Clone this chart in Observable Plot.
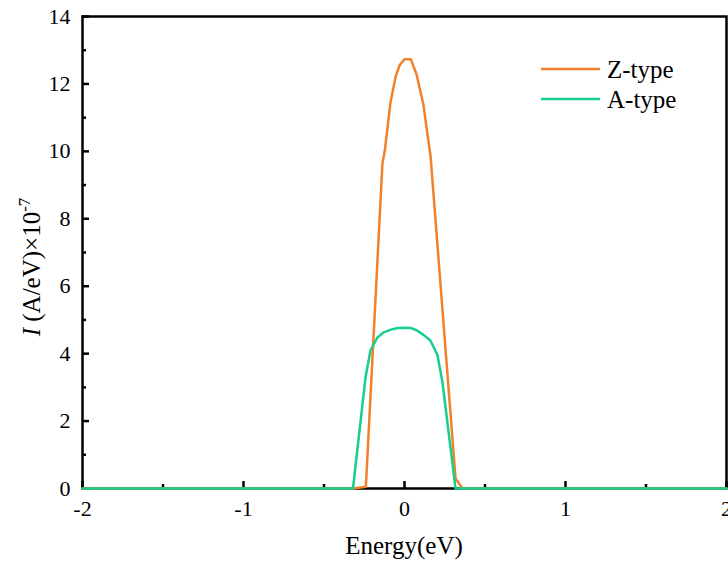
<!DOCTYPE html>
<html><head><meta charset="utf-8">
<script src="https://cdn.jsdelivr.net/npm/d3@7"></script>
<script src="https://cdn.jsdelivr.net/npm/@observablehq/plot@0.6"></script>
<style>
html,body{margin:0;padding:0;background:#fff;overflow:hidden}
svg, svg text, svg tspan { font-family: "Liberation Serif", "Times New Roman", "DejaVu Serif", serif !important; }
</style>
</head><body><div id="chart"></div>
<script>
const seriesNames = ["Z-type", "A-type"];
const seriesColors = ["#f4812a", "#17cf8d"];

const zEnergy  = [-2, -0.32, -0.24, -0.137, -0.122, -0.087, -0.056, -0.031, 0, 0.04, 0.075, 0.117, 0.162, 0.317, 0.36, 2];
const zCurrent = [0, 0, 0.05, 9.64, 10.03, 11.45, 12.2, 12.55, 12.73, 12.73, 12.28, 11.4, 9.85, 0.3, 0, 0];

const aEnergy  = [-2, -0.32, -0.242, -0.211, -0.168, -0.13, -0.08, -0.04, 0, 0.04, 0.08, 0.12, 0.161, 0.205, 0.236, 0.317, 2];
const aCurrent = [0, 0, 3.3, 4.1, 4.48, 4.63, 4.72, 4.76, 4.77, 4.76, 4.68, 4.55, 4.39, 3.95, 3.15, 0, 0];

const xMajorTicks = [-2, -1, 0, 1, 2];
const xMinorTicks = [-1.5, -0.5, 0.5, 1.5];
const yMajorTicks = [0, 2, 4, 6, 8, 10, 12, 14];
const yMinorTicks = [1, 3, 5, 7, 9, 11, 13];
const xTitle = "Energy(eV)";
const yTitleItalic = "I";
const yTitleMain = " (A/eV)×10";
const yTitleSup = "-7";

const zData = zEnergy.map((e, i) => ({e, v: zCurrent[i]}));
const aData = aEnergy.map((e, i) => ({e, v: aCurrent[i]}));

const W = 728, H = 562;
const mL = 82, mR = 2, mT = 16, mB = 74;
const fmt = d => String(d);

const chart = Plot.plot({
  width: W, height: H,
  marginLeft: mL, marginRight: mR, marginTop: mT, marginBottom: mB,
  style: {fontSize: "22px", color: "black", background: "white"},
  x: {domain: [-2, 2], label: null},
  y: {domain: [0, 14], label: null},
  marks: [
    Plot.axisX({ticks: xMajorTicks, tickSize: -7, strokeWidth: 2.5, tickFormat: () => "", label: null}),
    Plot.axisX({ticks: xMinorTicks, tickSize: -4, strokeWidth: 2.5, tickFormat: () => "", label: null}),
    Plot.axisX({ticks: xMajorTicks, tickSize: 0, tickPadding: 12, tickFormat: fmt, label: null, fill: "black"}),
    Plot.axisY({ticks: yMajorTicks, tickSize: -7, strokeWidth: 2.5, tickFormat: () => "", label: null}),
    Plot.axisY({ticks: yMinorTicks, tickSize: -4, strokeWidth: 2.5, tickFormat: () => "", label: null}),
    Plot.axisY({ticks: yMajorTicks, tickSize: 0, tickPadding: 12, tickFormat: fmt, label: null, fill: "black"}),
    Plot.frame({stroke: "black", strokeWidth: 2.5}),
    Plot.line(zData, {x: "e", y: "v", stroke: seriesColors[0], strokeWidth: 2.5}),
    Plot.line(aData, {x: "e", y: "v", stroke: seriesColors[1], strokeWidth: 2.5})
  ]
});
document.getElementById("chart").appendChild(chart);

const svg = d3.select(chart);

// x title
svg.append("text")
  .attr("x", mL + (W - mL - mR) / 2).attr("y", 554)
  .attr("text-anchor", "middle").attr("font-size", 25)
  .attr("fill", "black").text(xTitle);

// y title
const yt = svg.append("text")
  .attr("transform", "translate(40,267) rotate(-90)")
  .attr("text-anchor", "middle").attr("font-size", 25)
  .attr("fill", "black");
yt.append("tspan").attr("font-style", "italic").text(yTitleItalic);
yt.append("tspan").text(yTitleMain);
yt.append("tspan").attr("dy", -10).attr("font-size", 17).text(yTitleSup);

// legend
const lg = svg.append("g");
seriesNames.forEach((name, i) => {
  const y = 69 + i * 30;
  lg.append("line").attr("x1", 541).attr("x2", 600).attr("y1", y).attr("y2", y)
    .attr("stroke", seriesColors[i]).attr("stroke-width", 2.5);
  lg.append("text").attr("x", 607).attr("y", y).attr("dy", "0.35em")
    .attr("text-anchor", "start")
    .attr("font-size", 25).attr("fill", "black").text(name);
});
</script>
</body></html>
